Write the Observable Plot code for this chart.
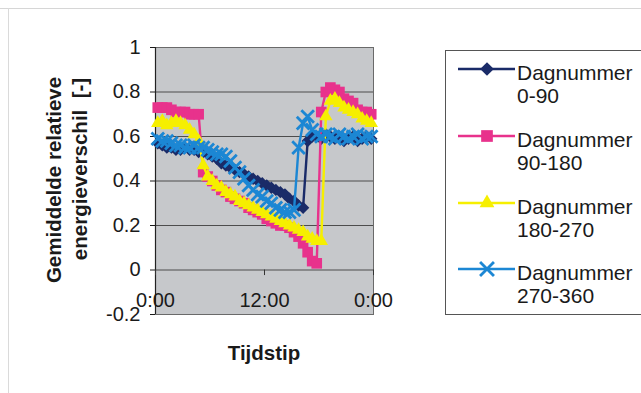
<!DOCTYPE html>
<html><head><meta charset="utf-8">
<script src="https://cdn.jsdelivr.net/npm/d3@7"></script>
<script src="https://cdn.jsdelivr.net/npm/@observablehq/plot@0.6"></script>
<style>
body{margin:0;background:#fff;font-family:"Liberation Sans",Arial,sans-serif;}
#wrap{position:relative;width:641px;height:393px;overflow:hidden;background:#fff;}
#wrap svg{position:absolute;left:0;top:0;}
</style></head><body><div id="wrap"></div>
<script>
// half-hour time stamps (hours), category centres
const hours = [0.25,0.75,1.25,1.75,2.25,2.75,3.25,3.75,4.25,4.75,
  5.25,5.75,6.25,6.75,7.25,7.75,8.25,8.75,9.25,9.75,
  10.25,10.75,11.25,11.75,12.25,12.75,13.25,13.75,14.25,14.75,
  15.25,15.75,16.25,16.75,17.25,17.75,18.25,18.75,19.25,19.75,
  20.25,20.75,21.25,21.75,22.25,22.75,23.25,23.75];

const dag0_90 = [0.57,0.56,0.55,0.55,0.54,0.54,0.55,0.54,0.54,0.53,
  0.53,0.52,0.51,0.50,0.48,0.47,0.46,0.45,0.44,0.43,
  0.42,0.41,0.40,0.39,0.38,0.37,0.36,0.35,0.34,0.32,
  0.31,0.29,0.28,0.58,0.60,0.60,0.59,0.61,0.60,0.59,
  0.60,0.58,0.59,0.60,0.58,0.59,0.60,0.59];

const dag90_180 = [0.73,0.73,0.73,0.72,0.71,0.71,0.71,0.70,0.70,0.70,
  0.44,0.42,0.40,0.38,0.36,0.35,0.33,0.32,0.31,0.30,
  0.28,0.27,0.26,0.25,0.23,0.22,0.21,0.20,0.20,0.19,
  0.17,0.15,0.12,0.08,0.04,0.03,0.71,0.80,0.82,0.81,
  0.80,0.77,0.76,0.75,0.72,0.71,0.71,0.70];

const dag180_270 = [0.66,0.67,0.65,0.66,0.67,0.66,0.65,0.63,0.61,0.58,
  0.47,0.42,0.40,0.38,0.37,0.35,0.34,0.33,0.31,0.30,
  0.29,0.28,0.27,0.26,0.25,0.24,0.23,0.22,0.21,0.20,
  0.19,0.18,0.17,0.15,0.14,0.13,0.13,0.69,0.76,0.77,
  0.75,0.73,0.72,0.71,0.70,0.68,0.67,0.66];

const dag270_360 = [0.59,0.58,0.58,0.57,0.56,0.56,0.55,0.55,0.56,0.55,
  0.55,0.54,0.53,0.52,0.52,0.51,0.49,0.46,0.44,0.41,
  0.38,0.36,0.34,0.33,0.31,0.30,0.28,0.27,0.26,0.26,
  0.27,0.55,0.66,0.69,0.63,0.61,0.60,0.61,0.60,0.59,
  0.61,0.60,0.59,0.60,0.61,0.59,0.60,0.60];

const yTicks = [-0.2, 0, 0.2, 0.4, 0.6, 0.8, 1];
const gridValues = [0, 0.2, 0.4, 0.6, 0.8];
const xTicks = [0, 12, 24];
const xTickLabels = ["0:00", "12:00", "0:00"];

const seriesLine1 = ["Dagnummer", "Dagnummer", "Dagnummer", "Dagnummer"];
const seriesLine2 = ["0-90", "90-180", "180-270", "270-360"];
const seriesColors = ["#1a2b68", "#e8328c", "#f6ef00", "#1c87d4"];
const seriesSymbols = ["diamond2", "square", "triangle", "times"];
const seriesR = [5.6, 6.0, 5.0, 5.8];

const allValues = [dag0_90, dag90_180, dag180_270, dag270_360];

const font = '"Liberation Sans", Arial, sans-serif';

const marks = [
  Plot.frame({fill: "#c6c8cb"}),
  Plot.ruleY(gridValues, {stroke: "#4d4d4d", strokeWidth: 1}),
  Plot.frame({stroke: "#6a6a6a"}),
  Plot.ruleX([0], {stroke: "#222", strokeWidth: 1.2}),
  Plot.ruleX(xTicks, {x: d => d, y1: -0.025, y2: 0, stroke: "#333"})
];

allValues.forEach((vals, s) => {
  const rows = vals.map((v, i) => ({t: hours[i], v}));
  marks.push(Plot.line(rows, {x: "t", y: "v", stroke: seriesColors[s], strokeWidth: 2.4}));
  if (seriesSymbols[s] === "times") {
    marks.push(Plot.dot(rows, {x: "t", y: "v", symbol: "times", r: seriesR[s], stroke: seriesColors[s], strokeWidth: 2.8, fill: "none"}));
  } else {
    marks.push(Plot.dot(rows, {x: "t", y: "v", symbol: seriesSymbols[s], r: seriesR[s], fill: seriesColors[s], stroke: "none"}));
  }
});

const xLab = xTicks.map((t, i) => ({t, label: xTickLabels[i]}));
marks.push(Plot.text(xLab, {x: "t", y: 0, text: "label", dy: 31, fontSize: 20, fill: "#1a1a1a"}));

const chart = Plot.plot({
  width: 641,
  height: 393,
  marginLeft: 155,
  marginRight: 268,
  marginTop: 47,
  marginBottom: 79,
  style: {fontSize: "20px", fontFamily: font, color: "#1a1a1a", background: "transparent", overflow: "visible"},
  x: {domain: [0, 24], axis: null},
  y: {domain: [-0.2, 1], ticks: yTicks, tickSize: 5, tickPadding: 10, label: null,
      tickFormat: d => d === 0 ? "0" : d === 1 ? "1" : (d < 0 ? "-" : "") + Math.abs(d).toFixed(1)},
  marks
});
document.getElementById("wrap").appendChild(chart);

// overlay: titles and legend
const ov = d3.select("#wrap").append("svg").attr("width", 641).attr("height", 393)
  .style("font-family", font);

ov.append("line").attr("x1", 0).attr("x2", 641).attr("y1", 8.5).attr("y2", 8.5).attr("stroke", "#d6d6d6");
ov.append("line").attr("x1", 8.5).attr("x2", 8.5).attr("y1", 8).attr("y2", 393).attr("stroke", "#dadada");

ov.append("text").attr("transform", "translate(53,180) rotate(-90)")
  .attr("text-anchor", "middle").attr("dominant-baseline", "central")
  .attr("font-weight", "bold").attr("font-size", 20.5).attr("fill", "#1a1a1a")
  .text("Gemiddelde relatieve");
ov.append("text").attr("transform", "translate(79,169) rotate(-90)")
  .attr("text-anchor", "middle").attr("dominant-baseline", "central")
  .attr("font-weight", "bold").attr("font-size", 20.5).attr("fill", "#1a1a1a")
  .text("energieverschil\u00a0 [-]");
ov.append("text").attr("x", 264).attr("y", 352)
  .attr("text-anchor", "middle").attr("dominant-baseline", "central")
  .attr("font-weight", "bold").attr("font-size", 20.5).attr("fill", "#1a1a1a")
  .text("Tijdstip");

ov.append("rect").attr("x", 445.5).attr("y", 50.5).attr("width", 200).attr("height", 264)
  .attr("fill", "#fff").attr("stroke", "#555");

const symMap = {diamond2: d3.symbolDiamond2, square: d3.symbolSquare, triangle: d3.symbolTriangle, times: d3.symbolTimes};
const itemY = [69, 136, 203, 269];
seriesLine2.forEach((lab, s) => {
  const y = itemY[s];
  const g = ov.append("g");
  g.append("line").attr("x1", 458).attr("x2", 515).attr("y1", y).attr("y2", y)
    .attr("stroke", seriesColors[s]).attr("stroke-width", 2.4);
  const r = seriesR[s] * 1.1;
  const path = d3.symbol(symMap[seriesSymbols[s]], Math.PI * r * r)();
  const p = g.append("path").attr("d", path).attr("transform", `translate(487,${y})`);
  if (seriesSymbols[s] === "times") p.attr("fill", "none").attr("stroke", seriesColors[s]).attr("stroke-width", 2.8);
  else p.attr("fill", seriesColors[s]);
  g.append("text").attr("x", 517).attr("y", y + 3).attr("dominant-baseline", "central")
    .attr("font-size", 21).attr("fill", "#1a1a1a").text(seriesLine1[s]);
  g.append("text").attr("x", 517).attr("y", y + 26).attr("dominant-baseline", "central")
    .attr("font-size", 21).attr("fill", "#1a1a1a").text(lab);
});
</script></body></html>
